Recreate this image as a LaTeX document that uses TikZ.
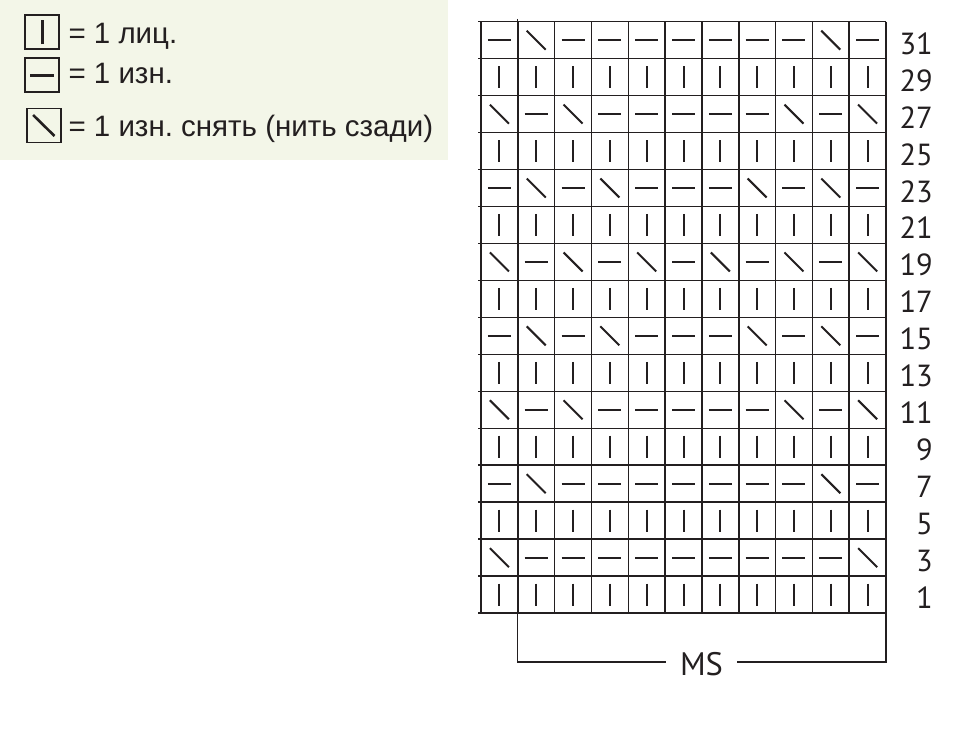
\documentclass[tikz,border=0pt]{standalone}
\usepackage{fontspec}
\setmainfont{Liberation Sans}
\newfontfamily\numfont{PT Sans}
\frenchspacing
\definecolor{legendbg}{HTML}{F3F6E8}
\definecolor{ink}{HTML}{231F20}
\tikzset{
  gridline/.style={draw=ink,line width=1.5pt},
  stitch/.style={draw=ink,line width=2pt},
  legstitch/.style={draw=ink,line width=2.6pt},
  legbox/.style={draw=ink,line width=1.8pt,minimum width=34pt,minimum height=34pt,inner sep=0pt},
  legtext/.style={anchor=base west,inner sep=0pt,font=\fontsize{29.5}{34}\selectfont,text=ink},
  rownum/.style={anchor=base east,inner sep=0pt,font=\numfont\fontsize{30.5}{36}\selectfont,text=ink},
}
\newcommand{\kstitch}[2]{\draw[stitch] (#1,#2-11) -- (#1,#2+11);}
\newcommand{\pstitch}[2]{\draw[stitch] (#1-11.5,#2) -- (#1+11.5,#2);}
\newcommand{\sstitch}[2]{\draw[stitch] (#1-9.5,#2-9.5) -- (#1+9.5,#2+9.5);}
\begin{document}
\begin{tikzpicture}[x=1pt,y=-1pt]
\useasboundingbox (0,0) rectangle (960,733);
% legend
\fill[legendbg] (0,0) rectangle (448,160);
\node[legbox] (lk) at (42.2,32.2) {};
\node[legbox] (lp) at (42.2,75.3) {};
\node[legbox] (ls) at (43.8,125.5) {};
\draw[legstitch] ([yshift=-12pt]lk.center) -- ([yshift=12pt]lk.center);
\draw[legstitch] ([xshift=-12pt]lp.center) -- ([xshift=12pt]lp.center);
\draw[legstitch] ([xshift=-10.7pt,yshift=10.5pt]ls.center) -- ([xshift=10.7pt,yshift=-10.5pt]ls.center);
\node[legtext] (tk) at (68.3,43.3) {= 1 лиц.};
\node[legtext] (tp) at (68.3,83.3) {= 1 изн.};
\node[legtext] (ts) at (68.3,136.7) {= 1 изн. снять (нить сзади)};
% grid
\def\gx{481}\def\gy{21.7}\def\cw{36.82}\def\rh{36.96}
\foreach \i in {0,...,16} \draw[gridline] (478,{\gy+\rh*\i}) -- (886,{\gy+\rh*\i});
\foreach \j in {0,...,11} \draw[gridline] ({\gx+\cw*\j},\gy) -- ({\gx+\cw*\j},{\gy+\rh*16});
% rows: 0 = knit, 1 = purl, 2 = slip; listed top (31) to bottom (1)
\foreach \pat [count=\r] in {
  {1,2,1,1,1,1,1,1,1,2,1},
  {0,0,0,0,0,0,0,0,0,0,0},
  {2,1,2,1,1,1,1,1,2,1,2},
  {0,0,0,0,0,0,0,0,0,0,0},
  {1,2,1,2,1,1,1,2,1,2,1},
  {0,0,0,0,0,0,0,0,0,0,0},
  {2,1,2,1,2,1,2,1,2,1,2},
  {0,0,0,0,0,0,0,0,0,0,0},
  {1,2,1,2,1,1,1,2,1,2,1},
  {0,0,0,0,0,0,0,0,0,0,0},
  {2,1,2,1,1,1,1,1,2,1,2},
  {0,0,0,0,0,0,0,0,0,0,0},
  {1,2,1,1,1,1,1,1,1,2,1},
  {0,0,0,0,0,0,0,0,0,0,0},
  {2,1,1,1,1,1,1,1,1,1,2},
  {0,0,0,0,0,0,0,0,0,0,0}} {
  \foreach \s [count=\c] in \pat {
    \pgfmathsetmacro{\cx}{\gx+\cw*(\c-0.5)}
    \pgfmathsetmacro{\cy}{\gy+\rh*(\r-0.5)}
    \ifcase\s\relax \kstitch{\cx}{\cy}\or \pstitch{\cx}{\cy}\or \sstitch{\cx}{\cy}\fi
  }
  \pgfmathtruncatemacro{\lab}{33-2*\r}
  \pgfmathsetmacro{\ny}{\gy+\rh*(\r-0.5)+14}
  \node[rownum] (n\lab) at (933,\ny) {\lab};
}
% MS bracket
\coordinate (bl) at (517.3,19);
\coordinate (blb) at (517.3,662);
\coordinate (br) at (886,613);
\coordinate (brb) at (886,662);
\node[font=\numfont\fontsize{32.5}{36}\selectfont,text=ink,inner xsep=14pt,inner ysep=0pt,text height=22pt,text depth=0pt,anchor=center] (ms) at (701.5,664.5) {MS};
\draw[gridline] (bl) -- (blb) -- (ms.west |- blb);
\draw[gridline] (br) -- (brb) -- (ms.east |- brb);
\end{tikzpicture}
\end{document}
